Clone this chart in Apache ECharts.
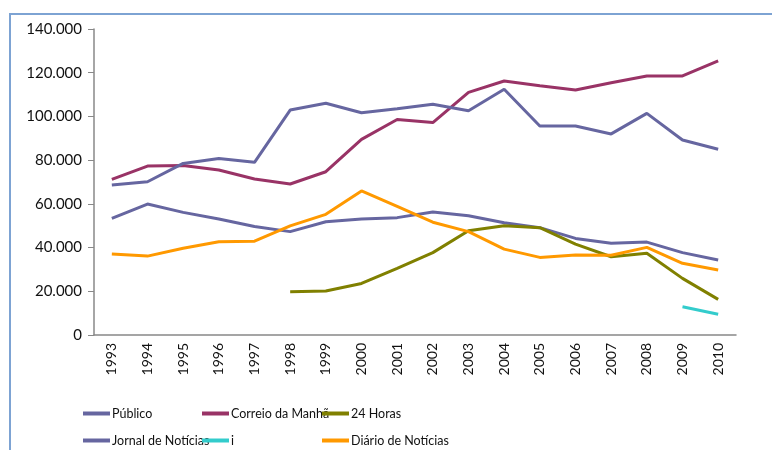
<!DOCTYPE html>
<html>
<head>
<meta charset="utf-8">
<script src="https://cdn.jsdelivr.net/npm/echarts@6/dist/echarts.min.js"></script>
<style>
  html, body { margin: 0; padding: 0; background: #fff; }
  #frame {
    position: absolute; left: 9px; top: 13px;
    width: 800px; height: 480px;
    border: 2px solid #7da3d3;
  }
  #chart { position: absolute; left: 0; top: 0; width: 772px; height: 450px; }
</style>
</head>
<body>
<div id="frame"></div>
<div id="chart"></div>
<script>
var years = ['1993', '1994', '1995', '1996', '1997', '1998', '1999', '2000', '2001',
  '2002', '2003', '2004', '2005', '2006', '2007', '2008', '2009', '2010']

var publico = [53400, 59900, 56100, 53100, 49600, 47300, 51800, 53100, 53700,
  56300, 54600, 51400, 49100, 44200, 42000, 42500, 37700, 34300]
var correio = [71200, 77300, 77500, 75500, 71400, 69100, 74700, 89500, 98600,
  97200, 111000, 116200, 114000, 112100, 115400, 118500, 118500, 125400]
var horas24 = [null, null, null, null, null, 19800, 20100, 23600, 30500,
  37700, 47700, 50000, 49100, 41600, 35800, 37400, 25900, 16300]
var jornal = [68600, 70100, 78500, 80800, 79000, 102900, 106000, 101700, 103500,
  105600, 102600, 112400, 95600, 95600, 92000, 101400, 89200, 85000]
var iJornal = [null, null, null, null, null, null, null, null, null,
  null, null, null, null, null, null, null, 12900, 9500]
var diario = [37100, 36100, 39700, 42700, 42900, 49900, 55200, 65900, 58800,
  51600, 47300, 39300, 35500, 36600, 36500, 40100, 32800, 29700]

var FONT = 'Lato, "Open Sans", sans-serif'
var BLUE = '#6666a0'

function line(name, data, color) {
  return {
    name: name,
    type: 'line',
    data: data,
    showSymbol: false,
    symbol: 'none',
    lineStyle: { width: 3, color: color },
    itemStyle: { color: color },
    connectNulls: false
  }
}

// one legend per entry so the 3x2 grid lines up like the original
function legendItem(name, left, top) {
  return {
    left: left,
    top: top,
    padding: 0,
    itemWidth: 27,
    itemHeight: 4,
    icon: 'rect',
    data: [name],
    textStyle: { fontFamily: FONT, fontSize: 12.5, color: '#111', padding: [0, 0, 0, -3] }
  }
}

var chart = echarts.init(document.getElementById('chart'))
chart.setOption({
  animation: false,
  grid: { left: 94, right: 36, top: 29, bottom: 115 },
  legend: [
    legendItem('Público', 83, 407),
    legendItem('Correio da Manhã', 202, 407),
    legendItem('24 Horas', 322, 407),
    legendItem('Jornal de Notícias', 83, 434),
    legendItem('i', 202, 434),
    legendItem('Diário de Notícias', 322, 434)
  ],
  xAxis: {
    type: 'category',
    data: years,
    boundaryGap: true,
    axisLine: { lineStyle: { color: '#888', width: 1.5 } },
    axisTick: { length: 6, lineStyle: { color: '#888' } },
    axisLabel: {
      rotate: 90,
      margin: 8,
      fontFamily: FONT,
      fontSize: 14,
      color: '#111'
    }
  },
  yAxis: {
    type: 'value',
    min: 0,
    max: 140000,
    interval: 20000,
    splitLine: { show: false },
    axisLine: { show: true, lineStyle: { color: '#888', width: 1.5 } },
    axisTick: { show: true, length: 6, lineStyle: { color: '#888' } },
    axisLabel: {
      margin: 12,
      fontFamily: FONT,
      fontSize: 15,
      color: '#111',
      formatter: function(v) {
        return v === 0 ? '0' : (v / 1000).toFixed(0) + '.000'
      }
    }
  },
  series: [
    line('Público', publico, BLUE),
    line('Correio da Manhã', correio, '#993366'),
    line('24 Horas', horas24, '#808000'),
    line('Jornal de Notícias', jornal, BLUE),
    line('i', iJornal, '#33cccc'),
    line('Diário de Notícias', diario, '#ff9900')
  ]
})
</script>
</body>
</html>
